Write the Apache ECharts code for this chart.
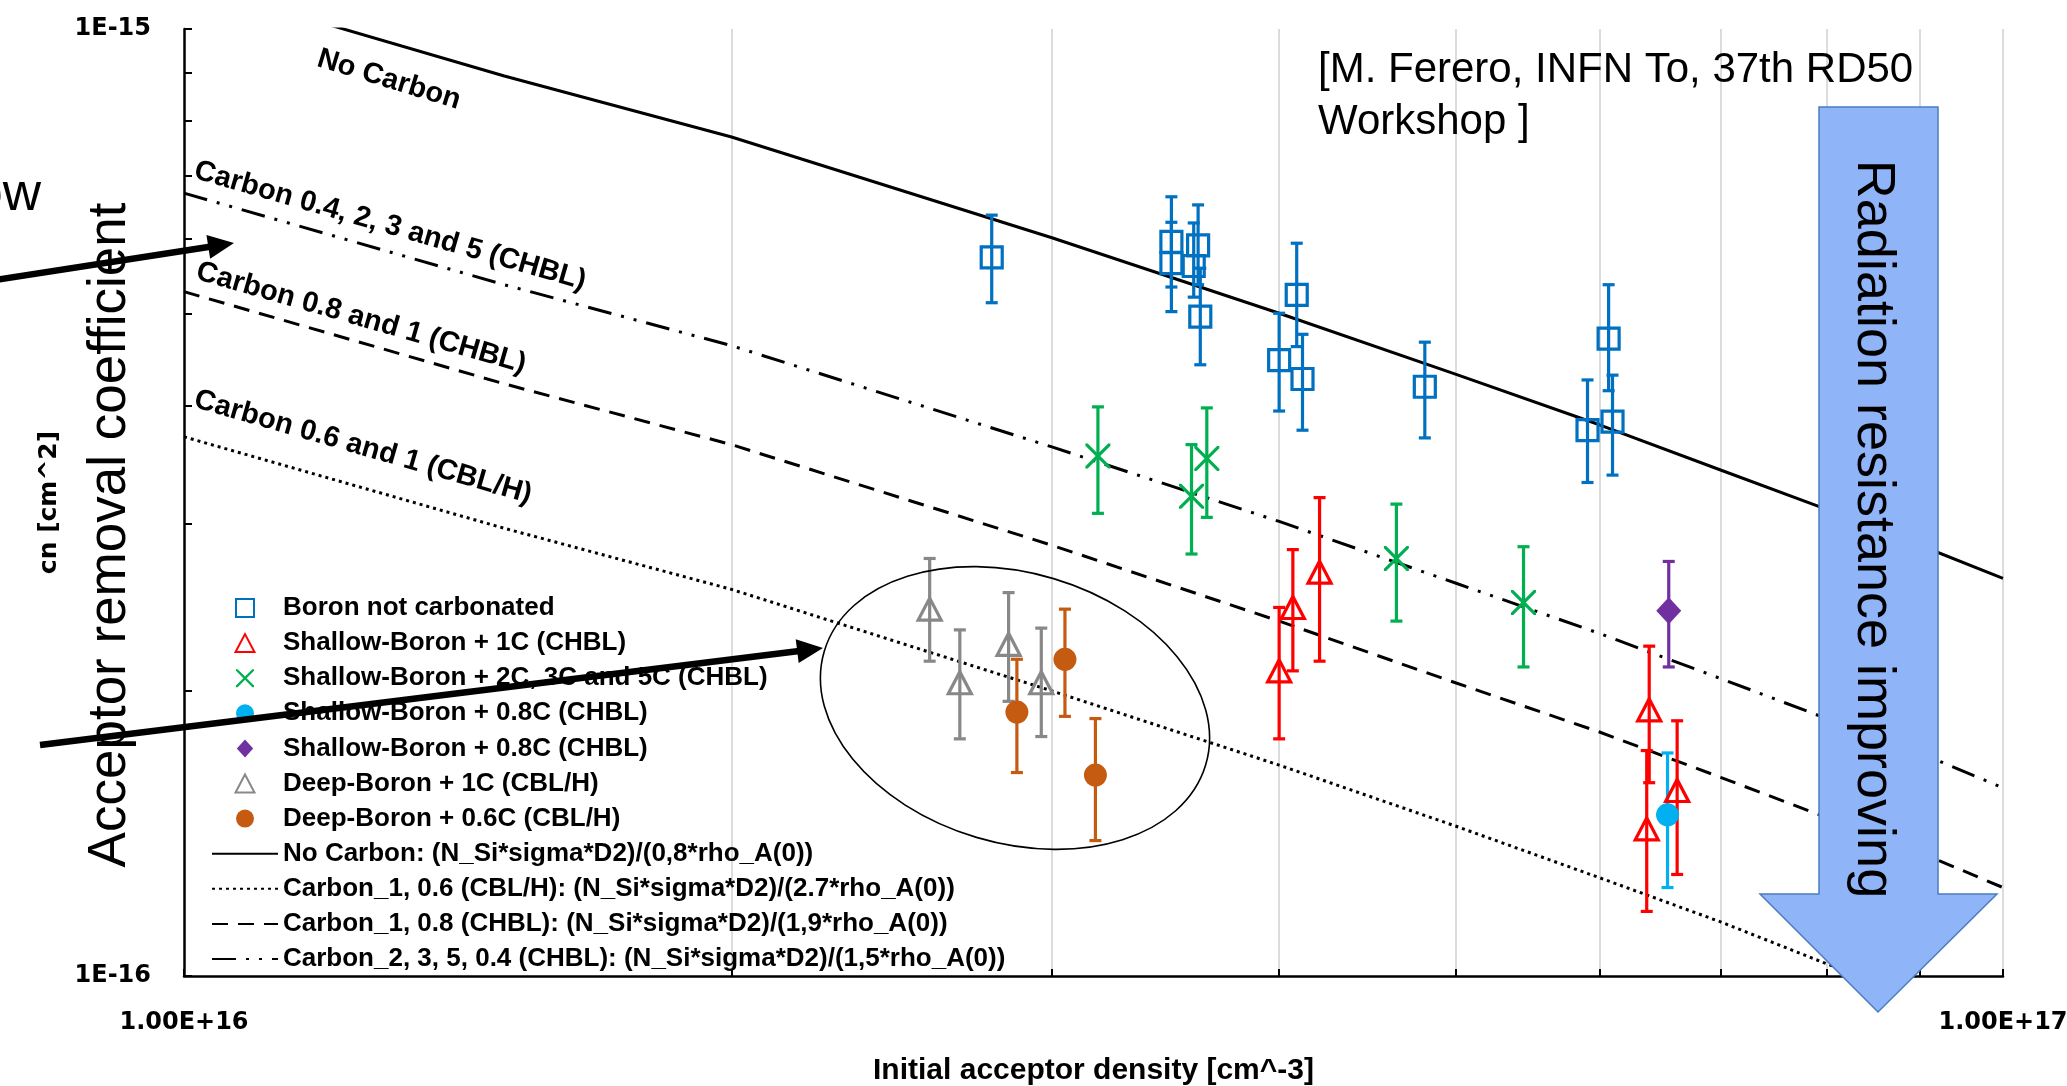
<!DOCTYPE html>
<html>
<head>
<meta charset="utf-8">
<title>Acceptor removal coefficient vs initial acceptor density</title>
<script src="https://cdn.jsdelivr.net/npm/echarts@6.0.0/dist/echarts.min.js"></script>
<style>
  html, body { margin: 0; padding: 0; background: #ffffff; }
  #chart { width: 2067px; height: 1086px; }
</style>
</head>
<body>
<div id="chart"></div>
<script>
// ---- axis ranges, ticks and grid values ----
const xMin = 1e16, xMax = 1e17;
const yMin = 1e-16, yMax = 1e-15;
const xTickValues = [1e16, 1e17];
const xTickLabels = ['1.00E+16', '1.00E+17'];
const yTickValues = [1e-16, 1e-15];
const yTickLabels = ['1E-16', '1E-15'];
const xGridValues = [2e16, 3e16, 4e16, 5e16, 6e16, 7e16, 8e16, 9e16, 1e17];
const yGridValues = [2e-16, 3e-16, 4e-16, 5e-16, 6e-16, 7e-16, 8e-16, 9e-16, 1e-15];
const xMinorTicks = [1e16, 2e16, 3e16, 4e16, 5e16, 6e16, 7e16, 8e16, 9e16, 1e17];
const yMinorTicks = [1e-16, 2e-16, 3e-16, 4e-16, 5e-16, 6e-16, 7e-16, 8e-16, 9e-16, 1e-15];

// ---- model curves c_n(rho_A) ----
const curveX = [1e16, 1.5e16, 2e16, 3e16, 4e16, 5e16, 6e16, 7e16, 8e16, 9e16, 1e17];
const noCarbonY  = [1.12e-15, 8.92e-16, 7.69e-16, 6.02e-16, 5.01e-16, 4.32e-16, 3.82e-16, 3.42e-16, 3.11e-16, 2.85e-16, 2.63e-16];
const carbon04Y  = [6.71e-16, 5.37e-16, 4.63e-16, 3.62e-16, 3.02e-16, 2.60e-16, 2.30e-16, 2.06e-16, 1.87e-16, 1.72e-16, 1.58e-16];
const carbon08Y  = [5.28e-16, 4.22e-16, 3.64e-16, 2.85e-16, 2.37e-16, 2.04e-16, 1.81e-16, 1.62e-16, 1.47e-16, 1.35e-16, 1.24e-16];
const carbon06Y  = [3.71e-16, 2.97e-16, 2.56e-16, 2.00e-16, 1.67e-16, 1.44e-16, 1.27e-16, 1.14e-16, 1.03e-16, 0.95e-16, 0.875e-16];

// ---- measured samples: value, lower and upper error ----
const boronX    = [2.78e16, 3.49e16, 3.49e16, 3.61e16, 3.59e16, 3.62e16, 4.00e16, 4.09e16, 4.12e16, 4.81e16, 5.91e16, 6.07e16, 6.10e16];
const boronY    = [5.74e-16, 5.96e-16, 5.66e-16, 5.91e-16, 5.62e-16, 4.97e-16, 4.47e-16, 5.24e-16, 4.27e-16, 4.19e-16, 3.77e-16, 4.71e-16, 3.85e-16];
const boronLow  = [5.14e-16, 5.34e-16, 5.03e-16, 5.37e-16, 5.21e-16, 4.42e-16, 3.95e-16, 4.62e-16, 3.77e-16, 3.70e-16, 3.32e-16, 4.15e-16, 3.38e-16];
const boronHigh = [6.36e-16, 6.65e-16, 6.25e-16, 6.52e-16, 6.24e-16, 5.59e-16, 5.01e-16, 5.94e-16, 4.76e-16, 4.67e-16, 4.26e-16, 5.37e-16, 4.31e-16];

const sb1cX    = [4.00e16, 4.07e16, 4.21e16, 6.39e16, 6.37e16, 6.62e16];
const sb1cY    = [2.10e-16, 2.45e-16, 2.67e-16, 1.91e-16, 1.43e-16, 1.57e-16];
const sb1cLow  = [1.78e-16, 2.10e-16, 2.15e-16, 1.60e-16, 1.17e-16, 1.28e-16];
const sb1cHigh = [2.45e-16, 2.82e-16, 3.20e-16, 2.23e-16, 1.73e-16, 1.86e-16];

const sb235X    = [3.18e16, 3.65e16, 3.58e16, 4.64e16, 5.45e16];
const sb235Y    = [3.54e-16, 3.52e-16, 3.21e-16, 2.76e-16, 2.48e-16];
const sb235Low  = [3.08e-16, 3.05e-16, 2.79e-16, 2.37e-16, 2.12e-16];
const sb235High = [3.99e-16, 3.98e-16, 3.64e-16, 3.15e-16, 2.84e-16];

const sb08aX = [6.54e16], sb08aY = [1.48e-16], sb08aLow = [1.24e-16], sb08aHigh = [1.72e-16];
const sb08bX = [6.55e16], sb08bY = [2.43e-16], sb08bLow = [2.12e-16], sb08bHigh = [2.74e-16];

const db1cX    = [2.57e16, 2.67e16, 2.84e16, 2.96e16];
const db1cY    = [2.44e-16, 2.04e-16, 2.24e-16, 2.04e-16];
const db1cLow  = [2.15e-16, 1.78e-16, 1.95e-16, 1.79e-16];
const db1cHigh = [2.76e-16, 2.32e-16, 2.54e-16, 2.33e-16];

const db06X    = [2.87e16, 3.05e16, 3.17e16];
const db06Y    = [1.90e-16, 2.16e-16, 1.63e-16];
const db06Low  = [1.64e-16, 1.88e-16, 1.39e-16];
const db06High = [2.16e-16, 2.44e-16, 1.87e-16];

// ---- names ----
const nBoron = 'Boron not carbonated';
const nSb1c = 'Shallow-Boron + 1C (CHBL)';
const nSb235 = 'Shallow-Boron + 2C, 3C and 5C (CHBL)';
const nSb08a = 'Shallow-Boron + 0.8C (CHBL)';
const nSb08b = 'Shallow-Boron + 0.8C (CHBL) ';
const nDb1c = 'Deep-Boron + 1C (CBL/H)';
const nDb06 = 'Deep-Boron + 0.6C (CBL/H)';
const nNoC = 'No Carbon: (N_Si*sigma*D2)/(0,8*rho_A(0))';
const nC06 = 'Carbon_1, 0.6 (CBL/H): (N_Si*sigma*D2)/(2.7*rho_A(0))';
const nC08 = 'Carbon_1, 0.8 (CHBL): (N_Si*sigma*D2)/(1,9*rho_A(0))';
const nC04 = 'Carbon_2, 3, 5, 0.4 (CHBL): (N_Si*sigma*D2)/(1,5*rho_A(0))';

const pick = (vals, labels) => (v) => {
  const i = vals.findIndex(t => Math.abs(v / t - 1) < 1e-6);
  return i >= 0 ? labels[i] : '';
};

// marker outlines (paths keep their aspect in the legend)
const squarePath = 'path://M0,0 L20,0 L20,20 L0,20 Z';
const trianglePath = 'path://M10,0 L20,19 L0,19 Z';
const diamondPath = 'path://M10,0 L20,11 L10,22 L0,11 Z';
const crossPath = 'path://M0,0 L1.8,0 L10,8.2 L18.2,0 L20,0 L20,1.8 L11.8,10 L20,18.2 L20,20 L18.2,20 L10,11.8 L1.8,20 L0,20 L0,18.2 L8.2,10 L0,1.8 Z';

function errorBars(color, xs, lows, highs) {
  return {
    type: 'custom',
    z: 10,
    silent: true,
    encode: { x: 0, y: [1, 2] },
    data: xs.map((x, i) => [x, lows[i], highs[i]]),
    renderItem: function (params, api) {
      const x = api.value(0);
      const lo = api.coord([x, api.value(1)]);
      const hi = api.coord([x, api.value(2)]);
      const hw = 6;
      const style = { stroke: color, lineWidth: 3.2, fill: null };
      return {
        type: 'group',
        children: [
          { type: 'line', shape: { x1: lo[0], y1: lo[1], x2: hi[0], y2: hi[1] }, style: style },
          { type: 'line', shape: { x1: lo[0] - hw, y1: lo[1], x2: lo[0] + hw, y2: lo[1] }, style: style },
          { type: 'line', shape: { x1: hi[0] - hw, y1: hi[1], x2: hi[0] + hw, y2: hi[1] }, style: style }
        ]
      };
    }
  };
}

function points(name, xs, ys, symbol, size, itemStyle) {
  return {
    type: 'scatter', name: name, z: 12, silent: true,
    symbol: symbol, symbolSize: size,
    itemStyle: Object.assign({ opacity: 1 }, itemStyle),
    data: xs.map((x, i) => [x, ys[i]])
  };
}

function curve(name, ys, dash) {
  return {
    type: 'line', name: name, z: 8, silent: true,
    symbol: 'none', showSymbol: false, clip: true,
    lineStyle: { color: '#000000', width: 3, type: dash },
    itemStyle: { color: '#000000' },
    data: curveX.map((x, i) => [x, ys[i]])
  };
}

function arrowPoly(x0, y0, x1, y1, shaft, headLen, headHalf) {
  const dx = x1 - x0, dy = y1 - y0, L = Math.hypot(dx, dy);
  const ux = dx / L, uy = dy / L, px = -uy, py = ux;
  const bx = x1 - ux * headLen, by = y1 - uy * headLen, s = shaft / 2;
  return [
    [x0 + px * s, y0 + py * s], [bx + px * s, by + py * s], [bx + px * headHalf, by + py * headHalf],
    [x1, y1],
    [bx - px * headHalf, by - py * headHalf], [bx - px * s, by - py * s], [x0 - px * s, y0 - py * s]
  ];
}

const hollow = (c) => ({ color: 'rgba(0,0,0,0)', borderColor: c, borderWidth: 3.2 });
const lineOnly = (name) => ({ name: name, itemStyle: { opacity: 0 } });
const bold29 = 'bold 29px "Liberation Sans"';
const deg = Math.PI / 180;

const chart = echarts.init(document.getElementById('chart'), null, { renderer: 'canvas' });

chart.setOption({
  animation: false,
  backgroundColor: '#ffffff',
  textStyle: { fontFamily: 'Liberation Sans' },
  grid: { left: 184, right: 64, top: 29, bottom: 110, containLabel: false, outerBoundsMode: 'none' },
  xAxis: {
    type: 'log', logBase: 10, min: xMin, max: xMax,
    name: 'Initial acceptor density [cm^-3]',
    nameLocation: 'middle', nameGap: 80,
    nameTextStyle: { fontFamily: 'Liberation Sans', fontWeight: 'bold', fontSize: 30, color: '#000' },
    axisLine: { show: true, onZero: false, lineStyle: { color: '#000', width: 2.5 } },
    axisTick: { show: true, inside: true, length: 7, customValues: xMinorTicks, lineStyle: { color: '#000', width: 2 } },
    axisLabel: {
      customValues: xTickValues, formatter: pick(xTickValues, xTickLabels),
      margin: 35, fontFamily: 'DejaVu Sans', fontWeight: 'bold', fontSize: 24, color: '#000',
      showMinLabel: true, showMaxLabel: true
    },
    splitLine: { show: false }
  },
  yAxis: {
    type: 'log', logBase: 10, min: yMin, max: yMax,
    name: 'cn [cm^2]',
    nameLocation: 'middle', nameRotate: 90, nameGap: 122,
    nameTextStyle: { fontFamily: 'DejaVu Sans', fontWeight: 'bold', fontSize: 25, color: '#000' },
    axisLine: { show: true, onZero: false, lineStyle: { color: '#000', width: 2.5 } },
    axisTick: { show: true, inside: true, length: 8, customValues: yMinorTicks, lineStyle: { color: '#000', width: 2 } },
    axisLabel: {
      customValues: yTickValues, formatter: pick(yTickValues, yTickLabels),
      margin: 33, fontFamily: 'DejaVu Sans', fontWeight: 'bold', fontSize: 24, color: '#000',
      showMinLabel: true, showMaxLabel: true
    },
    splitLine: { show: false }
  },
  legend: {
    orient: 'vertical', left: 211, top: 595, padding: 0,
    itemWidth: 66, itemHeight: 18, itemGap: 9.1,
    selectedMode: false,
    formatter: (name) => name.trim(),
    textStyle: { fontFamily: 'Liberation Sans', fontWeight: 'bold', fontSize: 26, color: '#000' },
    data: [nBoron, nSb1c, nSb235, nSb08a, nSb08b, nDb1c, nDb06,
           lineOnly(nNoC), lineOnly(nC06), lineOnly(nC08), lineOnly(nC04)]
  },
  series: [
    // light grid at the 2..9 sub-decades and the outer frame, kept beneath the data
    {
      type: 'scatter', data: [], z: 0, silent: true,
      markLine: {
        z: 0, silent: true, animation: false, symbol: ['none', 'none'],
        label: { show: false },
        lineStyle: { color: '#d4d4d4', width: 1.6, type: 'solid' },
        emphasis: { disabled: true },
        data: xGridValues.map(v => ({ xAxis: v })).concat(yGridValues.map(v => ({ yAxis: v })))
      }
    },
    curve(nNoC, noCarbonY, 'solid'),
    curve(nC06, carbon06Y, [3, 4]),
    curve(nC08, carbon08Y, [16, 10]),
    curve(nC04, carbon04Y, [24, 10, 3, 10, 3, 10]),

    errorBars('#0070C0', boronX, boronLow, boronHigh),
    errorBars('#FF0000', sb1cX, sb1cLow, sb1cHigh),
    errorBars('#00B050', sb235X, sb235Low, sb235High),
    errorBars('#00B0F0', sb08aX, sb08aLow, sb08aHigh),
    errorBars('#7030A0', sb08bX, sb08bLow, sb08bHigh),
    errorBars('#888888', db1cX, db1cLow, db1cHigh),
    errorBars('#C55A11', db06X, db06Low, db06High),

    points(nBoron, boronX, boronY, squarePath, [21, 21], hollow('#0070C0')),
    points(nSb1c, sb1cX, sb1cY, trianglePath, [23, 22], hollow('#FF0000')),
    points(nSb235, sb235X, sb235Y, crossPath, [25, 25], { color: '#00B050' }),
    points(nSb08a, sb08aX, sb08aY, 'circle', 23, { color: '#00B0F0' }),
    points(nSb08b, sb08bX, sb08bY, diamondPath, [25, 27], { color: '#7030A0' }),
    points(nDb1c, db1cX, db1cY, trianglePath, [23, 22], hollow('#888888')),
    points(nDb06, db06X, db06Y, 'circle', 23, { color: '#C55A11' })
  ],
  graphic: [
    // ring around the deep-boron group
    { type: 'ellipse', x: 1015, y: 708, rotation: -16.6 * deg, silent: true, z: 50,
      shape: { cx: 0, cy: 0, rx: 199, ry: 135 },
      style: { fill: null, stroke: '#000', lineWidth: 1.6 } },

    // labels along the model curves
    { type: 'text', x: 318, y: 58, rotation: -17 * deg, silent: true, z: 60,
      style: { text: 'No Carbon', font: bold29, fill: '#000', textAlign: 'left', textVerticalAlign: 'middle' } },
    { type: 'text', x: 195, y: 170, rotation: -16 * deg, silent: true, z: 60,
      style: { text: 'Carbon 0.4, 2, 3 and 5 (CHBL)', font: bold29, fill: '#000', textAlign: 'left', textVerticalAlign: 'middle' } },
    { type: 'text', x: 197, y: 271, rotation: -16 * deg, silent: true, z: 60,
      style: { text: 'Carbon 0.8 and 1 (CHBL)', font: bold29, fill: '#000', textAlign: 'left', textVerticalAlign: 'middle' } },
    { type: 'text', x: 195, y: 399, rotation: -16 * deg, silent: true, z: 60,
      style: { text: 'Carbon 0.6 and 1 (CBL/H)', font: bold29, fill: '#000', textAlign: 'left', textVerticalAlign: 'middle' } },

    // source note
    { type: 'text', x: 1318, y: 44, silent: true, z: 60,
      style: { text: '[M. Ferero, INFN To, 37th RD50\nWorkshop ]', font: '42px "Liberation Sans"', lineHeight: 52,
               fill: '#000', textAlign: 'left', textVerticalAlign: 'top' } },

    // big vertical titles
    { type: 'text', x: 110, y: 535, rotation: Math.PI / 2, silent: true, z: 90,
      style: { text: 'Acceptor removal coefficient', font: '53px "Liberation Sans"', fill: '#000', textAlign: 'center', textVerticalAlign: 'middle' } },
    { type: 'text', x: 41, y: 195, silent: true, z: 90,
      style: { text: 'ow', font: '53px "Liberation Sans"', fill: '#000', textAlign: 'right', textVerticalAlign: 'middle' } },

    // pointer arrows
    { type: 'polygon', silent: true, z: 95,
      shape: { points: arrowPoly(-5, 280, 234, 243, 6.5, 26, 12) }, style: { fill: '#000' } },
    { type: 'polygon', silent: true, z: 95,
      shape: { points: arrowPoly(40, 745, 823, 648, 6.5, 26, 12) }, style: { fill: '#000' } },

    // radiation-hardness arrow
    { type: 'polygon', silent: true, z: 96,
      shape: { points: [[1819, 107], [1938, 107], [1938, 894], [1997, 894], [1878, 1012], [1760, 894], [1819, 894]] },
      style: { fill: '#8FB4F8', stroke: '#4A7EC0', lineWidth: 1.5 } },
    { type: 'text', x: 1873, y: 529, rotation: -Math.PI / 2, silent: true, z: 97,
      style: { text: 'Radiation resistance improving', font: '54px "Liberation Sans"', fill: '#000', textAlign: 'center', textVerticalAlign: 'middle' } }
  ]
});
</script>
</body>
</html>
